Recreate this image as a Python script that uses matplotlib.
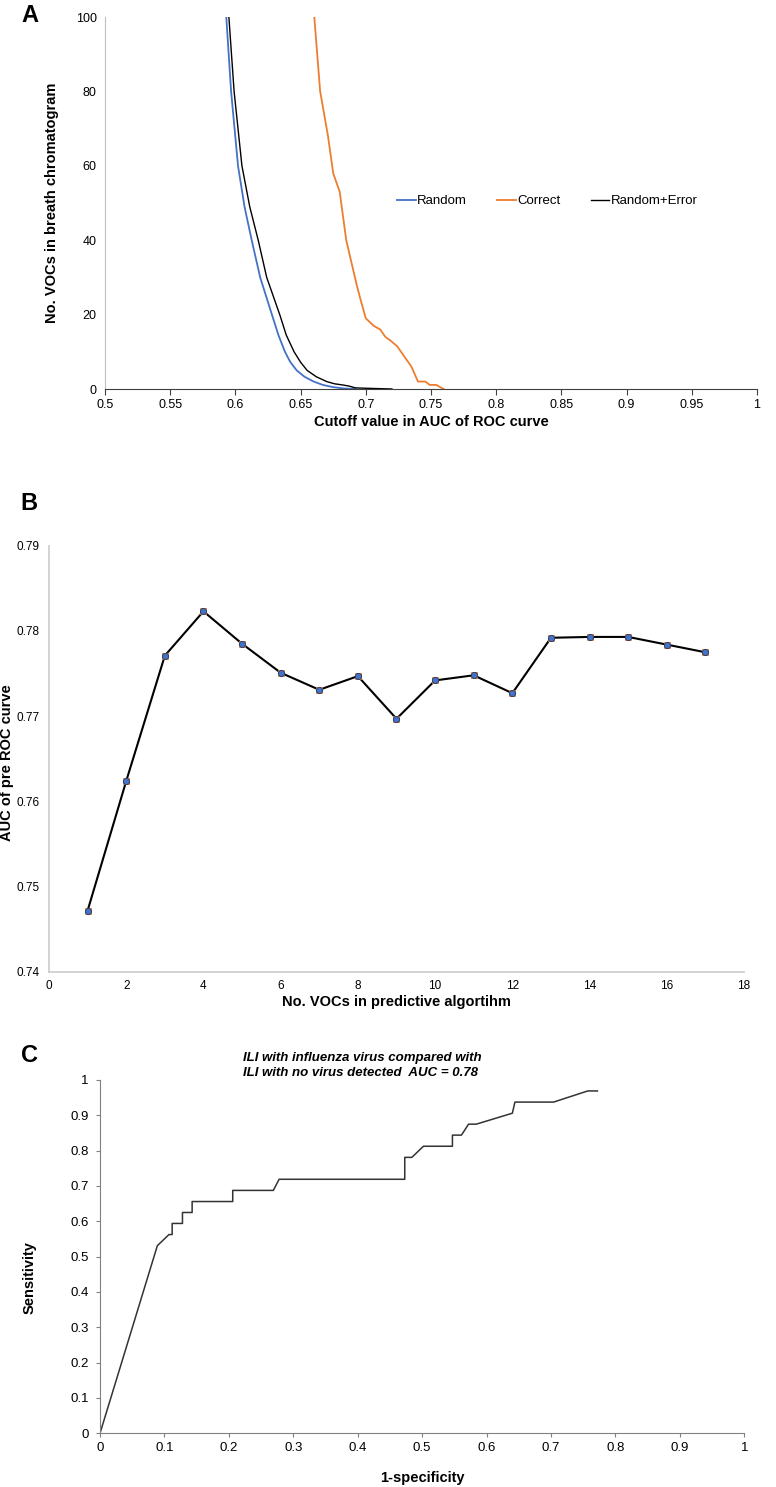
import numpy as np
import matplotlib
matplotlib.use("Agg")
import matplotlib.pyplot as plt

plt.rcParams["font.family"] = ["Liberation Sans", "DejaVu Sans"]

# panel A: number of VOCs above an AUC cutoff
random_x = [0.593, 0.5967, 0.602, 0.607, 0.6125, 0.619, 0.628, 0.633, 0.638, 0.642, 0.647, 0.653, 0.660, 0.667, 0.675, 0.683, 0.692]
random_y = [100, 80, 60, 49, 40, 30, 20, 14.5, 10, 7.3, 5, 3.3, 2, 1.1, 0.5, 0.15, 0]
error_x = [0.595, 0.599, 0.605, 0.611, 0.6175, 0.624, 0.634, 0.639, 0.645, 0.650, 0.655, 0.662, 0.670, 0.676, 0.682, 0.687, 0.692, 0.700, 0.720]
error_y = [100, 80, 60, 49, 40, 30, 20, 14.5, 10, 7.2, 5, 3.3, 2, 1.4, 1.1, 0.8, 0.3, 0.2, 0]
correct_x = [0.6605, 0.665, 0.671, 0.675, 0.680, 0.685, 0.689, 0.693, 0.696, 0.700, 0.706, 0.711, 0.715, 0.719, 0.724, 0.729, 0.735, 0.740, 0.7456, 0.749, 0.754, 0.7596]
correct_y = [100, 80, 68, 58, 53, 40, 34, 28, 24, 19, 17, 16, 14, 13, 11.5, 9, 6, 2, 2, 1.1, 1.1, 0]

# panel B: AUC against number of VOCs in the algorithm
n_vocs = np.arange(1, 18)
auc_values = [0.7472, 0.7624, 0.7771, 0.7823, 0.7785, 0.7751, 0.7731, 0.7747, 0.7697,
              0.7742, 0.7748, 0.7727, 0.7792, 0.7793, 0.7793, 0.7784, 0.7775]

# panel C: ROC curve
roc_fpr = [0, 0.089, 0.107, 0.112, 0.112, 0.128, 0.128, 0.143, 0.143, 0.206, 0.206, 0.269, 0.278,
           0.473, 0.473, 0.484, 0.502, 0.547, 0.547, 0.561, 0.572, 0.584, 0.640, 0.644,
           0.704, 0.757, 0.772]
roc_tpr = [0, 0.531, 0.5625, 0.5625, 0.594, 0.594, 0.625, 0.625, 0.656, 0.656, 0.6875, 0.6875, 0.719,
           0.719, 0.781, 0.781, 0.8125, 0.8125, 0.844, 0.844, 0.875, 0.875, 0.906, 0.9375,
           0.9375, 0.969, 0.969]

W, H = 776, 1487
LABEL_FS = 10.5
fig = plt.figure(figsize=(W / 100, H / 100), dpi=100)

# ---- A
ax = fig.add_axes([105 / W, 1 - 389 / H, 652 / W, 372 / H])
ax.plot(random_x, random_y, color="#4472C4", lw=1.3, label="Random")
ax.plot(correct_x, correct_y, color="#ED7D31", lw=1.3, label="Correct")
ax.plot(error_x, error_y, color="black", lw=1.0, label="Random+Error")
ax.set_xlim(0.5, 1)
ax.set_ylim(0, 100)
ax.set_xticks(np.arange(0.5, 1.01, 0.05))
ax.set_xticklabels(["0.5", "0.55", "0.6", "0.65", "0.7", "0.75", "0.8", "0.85", "0.9", "0.95", "1"])
ax.set_yticks([0, 20, 40, 60, 80, 100])
for s in ["top", "right"]:
    ax.spines[s].set_visible(False)
ax.spines["left"].set_color("#bfbfbf")
ax.spines["bottom"].set_color("#404040")
ax.tick_params(axis="y", length=0, labelsize=9, pad=6)
ax.tick_params(axis="x", length=4, labelsize=9, color="#404040")
ax.set_xlabel("Cutoff value in AUC of ROC curve", fontsize=LABEL_FS, fontweight="bold")
ax.set_ylabel("No. VOCs in breath chromatogram", fontsize=LABEL_FS, fontweight="bold")
ax.xaxis.set_label_coords(0.5, -0.0887)
ax.yaxis.set_label_coords(-0.0813, 0.5)
ax.xaxis.label.set_va("center")
ax.yaxis.label.set_va("center")
ax.legend(loc="center left", bbox_to_anchor=(0.43, 0.505), ncol=3, frameon=False,
          fontsize=9.5, handlelength=1.4, handletextpad=0.1, columnspacing=2.3)
fig.text(30 / W, 1 - 16 / H, "A", fontsize=17, fontweight="bold", ha="center", va="center")

# ---- B
ax = fig.add_axes([49 / W, 1 - 972 / H, 695 / W, 426.3 / H])
ax.plot(n_vocs, auc_values, color="black", lw=1.5, zorder=2)
ax.plot(n_vocs, auc_values, ls="none", marker="s", ms=5, color="#F4B183",
        markeredgecolor="#ED7D31", markeredgewidth=0.6, zorder=3)
ax.plot(n_vocs, auc_values, ls="none", marker="o", ms=4.5, color="#4472C4",
        markeredgecolor="#203864", markeredgewidth=0.6, zorder=4)
ax.set_xlim(0, 18)
ax.set_ylim(0.74, 0.79)
ax.set_xticks(range(0, 19, 2))
ax.set_yticks([0.74, 0.75, 0.76, 0.77, 0.78, 0.79])
for s in ["top", "right"]:
    ax.spines[s].set_visible(False)
for s in ["left", "bottom"]:
    ax.spines[s].set_color("#d0d0d0")
    ax.spines[s].set_linewidth(1.3)
ax.tick_params(length=0, labelsize=8.5)
ax.tick_params(axis="y", pad=7)
ax.tick_params(axis="x", pad=6)
ax.set_xlabel("No. VOCs in predictive algortihm", fontsize=LABEL_FS, fontweight="bold")
ax.set_ylabel("AUC of pre ROC curve", fontsize=LABEL_FS, fontweight="bold")
ax.xaxis.set_label_coords(0.5, -0.0704)
ax.yaxis.set_label_coords(-0.0605, 0.49)
ax.xaxis.label.set_va("center")
ax.yaxis.label.set_va("center")
fig.text(29 / W, 1 - 503 / H, "B", fontsize=17, fontweight="bold", ha="center", va="center")

# ---- C
ax = fig.add_axes([100 / W, 1 - 1433.3 / H, 644.3 / W, 353.3 / H])
ax.plot(roc_fpr, roc_tpr, color="#333333", lw=1.1)
ax.set_xlim(0, 1)
ax.set_ylim(0, 1)
ax.set_xticks(np.arange(0, 1.01, 0.1))
ax.set_yticks(np.arange(0, 1.01, 0.1))
ax.set_xticklabels(["0", "0.1", "0.2", "0.3", "0.4", "0.5", "0.6", "0.7", "0.8", "0.9", "1"])
ax.set_yticklabels(["0", "0.1", "0.2", "0.3", "0.4", "0.5", "0.6", "0.7", "0.8", "0.9", "1"])
for s in ["top", "right"]:
    ax.spines[s].set_visible(False)
for s in ["left", "bottom"]:
    ax.spines[s].set_color("#808080")
ax.tick_params(length=3, color="#808080", labelsize=9.5)
ax.tick_params(axis="y", pad=5)
ax.set_xlabel("1-specificity", fontsize=LABEL_FS, fontweight="bold")
ax.set_ylabel("Sensitivity", fontsize=LABEL_FS, fontweight="bold")
ax.xaxis.set_label_coords(0.5, -0.1265)
ax.yaxis.set_label_coords(-0.11, 0.442)
ax.xaxis.label.set_va("center")
ax.yaxis.label.set_va("center")
ax.text(0.222, 1.041, "ILI with influenza virus compared with\nILI with no virus detected  AUC = 0.78",
        transform=ax.transAxes, fontsize=9.5, fontweight="bold", fontstyle="italic",
        ha="left", va="center", linespacing=1.35)
fig.text(30 / W, 1 - 1055 / H, "C", fontsize=17, fontweight="bold", ha="center", va="center")

fig.savefig("out.png", dpi=100)
